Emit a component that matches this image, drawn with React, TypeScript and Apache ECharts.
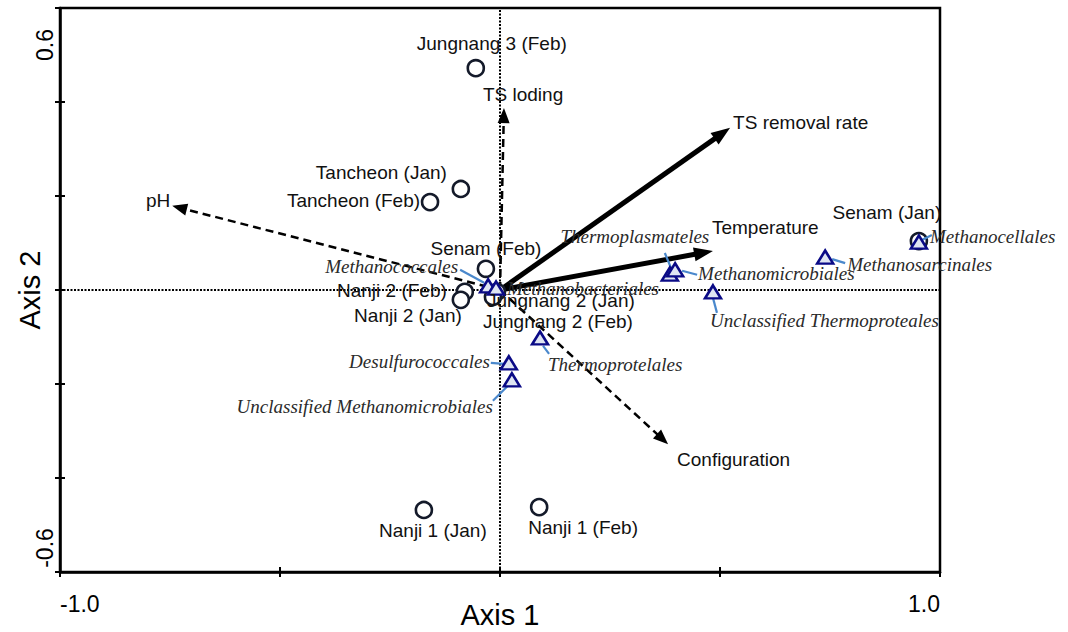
import React, { useEffect, useRef } from 'react';
import * as echarts from 'echarts';

// ---- Data (CCA biplot scores) ----
const SITE_NAMES = [
  'Jungnang 3 (Feb)', 'Tancheon (Jan)', 'Tancheon (Feb)', 'Senam (Feb)', 'Nanji 2 (Feb)',
  'Nanji 2 (Jan)', 'Jungnang 2 (Jan)', 'Jungnang 2 (Feb)', 'Senam (Jan)', 'Nanji 1 (Jan)', 'Nanji 1 (Feb)',
];
const SITE_AXIS1 = [-0.055, -0.089, -0.159, -0.032, -0.080, -0.089, -0.007, -0.016, 0.952, -0.173, 0.089];
const SITE_AXIS2 = [0.472, 0.215, 0.187, 0.045, -0.004, -0.021, -0.004, -0.015, 0.104, -0.468, -0.462];

const SPECIES_NAMES = [
  'Methanococcales', 'Methanobacteriales', 'Thermoplasmateles', 'Methanomicrobiales',
  'Unclassified Thermoproteales', 'Methanosarcinales', 'Methanocellales', 'Thermoprotelales',
  'Desulfurococcales', 'Unclassified Methanomicrobiales',
];
const SPECIES_AXIS1 = [-0.027, -0.009, 0.386, 0.398, 0.484, 0.739, 0.952, 0.091, 0.020, 0.027];
const SPECIES_AXIS2 = [0.009, 0.004, 0.034, 0.043, -0.004, 0.070, 0.102, -0.102, -0.155, -0.191];

const VECTOR_NAMES = ['TS loding', 'TS removal rate', 'Temperature', 'pH', 'Configuration'];
const VECTOR_AXIS1 = [0.009, 0.523, 0.484, -0.745, 0.382];
const VECTOR_AXIS2 = [0.387, 0.345, 0.083, 0.179, -0.328];

const X_TICK_LABELS = ['-1.0', '1.0'];
const Y_TICK_LABELS = ['0.6', '-0.6'];

// ---- Styling / label placement (pixels, separate from data) ----
type Align = 'left' | 'center' | 'right';
const SITE_LABEL_POS: Record<string, [number, number, Align]> = {
  'Jungnang 3 (Feb)': [16, -25, 'center'],
  'Tancheon (Jan)': [-14, -16, 'right'],
  'Tancheon (Feb)': [-10, -2, 'right'],
  'Senam (Feb)': [0, -20, 'center'],
  'Nanji 2 (Feb)': [-18, -1, 'right'],
  'Nanji 2 (Jan)': [1, 16, 'right'],
  'Jungnang 2 (Jan)': [-10, 9, 'left'],
  'Jungnang 2 (Feb)': [-10, 24, 'left'],
  'Senam (Jan)': [-32, -29, 'center'],
  'Nanji 1 (Jan)': [9, 21, 'center'],
  'Nanji 1 (Feb)': [-11, 20, 'left'],
};
const SPECIES_LABEL_POS: Record<string, [number, number, Align]> = {
  'Methanococcales': [-30, -19, 'right'],
  'Methanobacteriales': [11, 0, 'left'],
  'Thermoplasmateles': [-35, -38, 'center'],
  'Methanomicrobiales': [23, 4, 'left'],
  'Unclassified Thermoproteales': [-3, 29, 'left'],
  'Methanosarcinales': [22, 7, 'left'],
  'Methanocellales': [11, -6, 'left'],
  'Thermoprotelales': [8, 27, 'left'],
  'Desulfurococcales': [-19, -1, 'right'],
  'Unclassified Methanomicrobiales': [-19, 27, 'right'],
};
const SPECIES_LEADER: Record<string, [number, number, number, number] | null> = {
  'Methanococcales': [-28, -16, -4, -3],
  'Methanobacteriales': null,
  'Thermoplasmateles': [-5, -21, 2, -4],
  'Methanomicrobiales': [7, 1, 22, 5],
  'Unclassified Thermoproteales': [0, 6, 4, 21],
  'Methanosarcinales': [7, 2, 20, 6],
  'Methanocellales': [3, -2, 13, -7],
  'Thermoprotelales': [3, 8, 9, 16],
  'Desulfurococcales': [-18, 0, -5, 1],
  'Unclassified Methanomicrobiales': [-19, 21, -4, 6],
};
const VECTOR_LABEL_POS: Record<string, [number, number, Align]> = {
  'TS loding': [-21, -14, 'left'],
  'TS removal rate': [3, -5, 'left'],
  'Temperature': [-1, -23, 'left'],
  'pH': [-2, -5, 'right'],
  'Configuration': [9, 15, 'left'],
};
const SOLID_VECTORS = ['TS removal rate', 'Temperature'];

const SANS = "'Liberation Sans', Arial, sans-serif";
const SERIF = "'Liberation Serif', 'Times New Roman', serif";

export default function App() {
  const ref = useRef<HTMLDivElement>(null);

  useEffect(() => {
    const chart = echarts.init(ref.current!, null, { renderer: 'svg' });

    const siteData = SITE_AXIS1.map((x, i) => [x, SITE_AXIS2[i]]);
    const speciesData = SPECIES_AXIS1.map((x, i) => [x, SPECIES_AXIS2[i]]);
    const vectorData = VECTOR_AXIS1.map((x, i) => [x, VECTOR_AXIS2[i]]);

    const makeLabelSeries = (
      names: string[],
      data: number[][],
      pos: Record<string, [number, number, Align]>,
      font: { fontFamily: string; fontStyle: string; fill: string },
    ) => ({
      type: 'custom',
      silent: true,
      clip: false,
      z: 20,
      data,
      renderItem: (params: any, api: any) => {
        const p = api.coord([api.value(0), api.value(1)]);
        const name = names[params.dataIndex];
        const o = pos[name];
        return {
          type: 'text',
          x: p[0] + o[0],
          y: p[1] + o[1],
          style: {
            text: name,
            fill: font.fill,
            fontSize: 19,
            fontFamily: font.fontFamily,
            fontStyle: font.fontStyle,
            align: o[2],
            verticalAlign: 'middle',
          },
        };
      },
    });

    const option: any = {
      animation: false,
      backgroundColor: '#ffffff',
      grid: {
        left: 60,
        right: 128,
        top: 8,
        bottom: 60,
        containLabel: false,
        outerBoundsMode: 'none',
        show: true,
        borderColor: '#000',
        borderWidth: 2.5,
      },
      xAxis: [
        {
          type: 'value',
          min: -1,
          max: 1,
          interval: 0.5,
          position: 'bottom',
          axisLine: { show: true, onZero: false, lineStyle: { color: '#000', width: 2.5 } },
          axisTick: { show: true, length: 5, lineStyle: { color: '#000', width: 2 } },
          splitLine: { show: false },
          axisLabel: {
            color: '#000',
            fontSize: 23,
            fontFamily: SANS,
            margin: 20,
            alignMinLabel: 'left',
            alignMaxLabel: 'right',
            formatter: (v: number) => (v === -1 ? X_TICK_LABELS[0] : v === 1 ? X_TICK_LABELS[1] : ''),
          },
          name: 'Axis 1',
          nameLocation: 'middle',
          nameGap: 28,
          nameMoveOverlap: false,
          nameTextStyle: { color: '#000', fontSize: 29, fontFamily: SANS },
        },
        {
          type: 'value',
          min: -1,
          max: 1,
          interval: 0.5,
          position: 'bottom',
          axisLine: { show: false, onZero: false },
          axisTick: { show: true, inside: true, length: 5, lineStyle: { color: '#000', width: 2 } },
          axisLabel: { show: false },
          splitLine: { show: false },
        },
      ],
      yAxis: [
        {
          type: 'value',
          min: -0.6,
          max: 0.6,
          interval: 0.2,
          position: 'left',
          axisLine: { show: true, onZero: false, lineStyle: { color: '#000', width: 2.5 } },
          axisTick: { show: true, length: 5, lineStyle: { color: '#000', width: 2 } },
          splitLine: { show: false },
          axisLabel: { show: false },
          name: 'Axis 2',
          nameLocation: 'middle',
          nameRotate: 90,
          nameGap: 16,
          nameMoveOverlap: false,
          nameTextStyle: { color: '#000', fontSize: 29, fontFamily: SANS },
        },
        {
          type: 'value',
          min: -0.6,
          max: 0.6,
          interval: 0.2,
          position: 'left',
          axisLine: { show: false, onZero: false },
          axisTick: { show: true, inside: true, length: 5, lineStyle: { color: '#000', width: 2 } },
          axisLabel: { show: false },
          splitLine: { show: false },
        },
      ],
      graphic: [
        {
          type: 'text',
          x: 45,
          y: 45,
          rotation: Math.PI / 2,
          style: { text: Y_TICK_LABELS[0], fill: '#000', fontSize: 23, fontFamily: SANS, align: 'center', verticalAlign: 'middle' },
        },
        {
          type: 'text',
          x: 45,
          y: 548,
          rotation: Math.PI / 2,
          style: { text: Y_TICK_LABELS[1], fill: '#000', fontSize: 23, fontFamily: SANS, align: 'center', verticalAlign: 'middle' },
        },
      ],
      series: [
        // zero reference lines
        {
          type: 'scatter',
          data: [],
          z: 1,
          silent: true,
          markLine: {
            silent: true,
            symbol: ['none', 'none'],
            label: { show: false },
            lineStyle: { color: '#000', width: 2, type: [2, 1.5] },
            data: [{ xAxis: 0 }, { yAxis: 0 }],
          },
        },
        // environmental vectors
        {
          type: 'custom',
          silent: true,
          clip: false,
          z: 5,
          data: vectorData,
          renderItem: (params: any, api: any) => {
            const o = api.coord([0, 0]);
            const t = api.coord([api.value(0), api.value(1)]);
            const name = VECTOR_NAMES[params.dataIndex];
            const solid = SOLID_VECTORS.indexOf(name) >= 0;
            const dx = t[0] - o[0];
            const dy = t[1] - o[1];
            const len = Math.sqrt(dx * dx + dy * dy);
            const ux = dx / len;
            const uy = dy / len;
            const L = solid ? 19 : 15;
            const W = solid ? 7 : 6;
            const bx = t[0] - ux * L;
            const by = t[1] - uy * L;
            const nx = -uy;
            const ny = ux;
            const lp = VECTOR_LABEL_POS[name];
            return {
              type: 'group',
              children: [
                {
                  type: 'line',
                  shape: { x1: o[0], y1: o[1], x2: bx + ux * 2, y2: by + uy * 2 },
                  style: {
                    stroke: '#000',
                    lineWidth: solid ? 5 : 2.5,
                    lineDash: solid ? null : [8, 5],
                  },
                },
                {
                  type: 'polygon',
                  shape: { points: [[t[0], t[1]], [bx + nx * W, by + ny * W], [bx - nx * W, by - ny * W]] },
                  style: { fill: '#000' },
                },
                {
                  type: 'text',
                  x: t[0] + lp[0],
                  y: t[1] + lp[1],
                  style: {
                    text: name,
                    fill: '#111',
                    fontSize: 19,
                    fontFamily: SANS,
                    align: lp[2],
                    verticalAlign: 'middle',
                  },
                },
              ],
            };
          },
        },
        // sites
        {
          type: 'scatter',
          z: 8,
          silent: true,
          symbol: 'circle',
          symbolSize: 16,
          itemStyle: { color: '#ffffff', borderColor: '#141a2a', borderWidth: 2.6, opacity: 1 },
          data: siteData,
        },
        // species leader lines
        {
          type: 'custom',
          silent: true,
          clip: false,
          z: 9,
          data: speciesData,
          renderItem: (params: any, api: any) => {
            const p = api.coord([api.value(0), api.value(1)]);
            const l = SPECIES_LEADER[SPECIES_NAMES[params.dataIndex]];
            if (!l) return { type: 'group', children: [] };
            return {
              type: 'line',
              shape: { x1: p[0] + l[0], y1: p[1] + l[1], x2: p[0] + l[2], y2: p[1] + l[3] },
              style: { stroke: '#4a88cc', lineWidth: 2.2 },
            };
          },
        },
        // species
        {
          type: 'scatter',
          z: 10,
          silent: true,
          symbol: 'triangle',
          symbolSize: [16, 13],
          itemStyle: { color: '#dfe5f2', borderColor: '#0a0a86', borderWidth: 2.5, opacity: 1 },
          data: speciesData,
        },
        makeLabelSeries(SITE_NAMES, siteData, SITE_LABEL_POS, { fontFamily: SANS, fontStyle: 'normal', fill: '#111' }),
        makeLabelSeries(SPECIES_NAMES, speciesData, SPECIES_LABEL_POS, { fontFamily: SERIF, fontStyle: 'italic', fill: '#2a2a2a' }),
      ],
    };

    chart.setOption(option);
    return () => chart.dispose();
  }, []);

  return (
    <div
      ref={ref}
      style={{ position: 'fixed', left: 0, top: 0, width: 1068, height: 632, background: '#fff' }}
    />
  );
}
